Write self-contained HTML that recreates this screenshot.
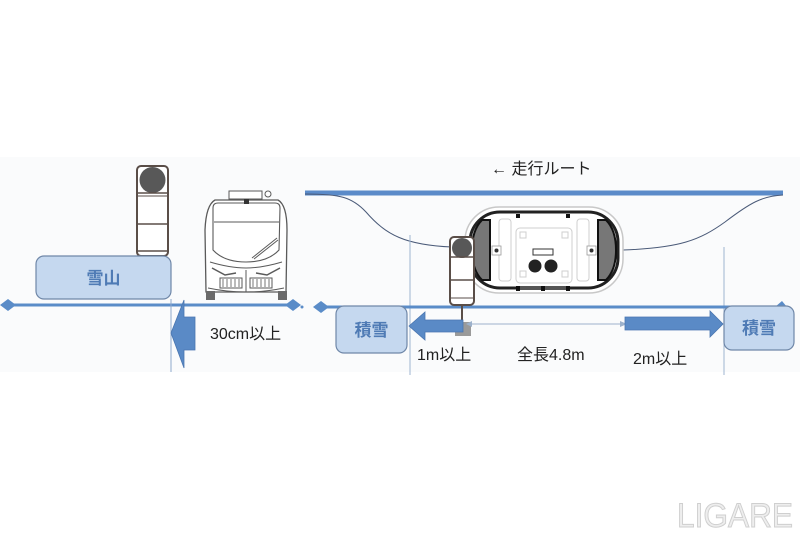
<!DOCTYPE html>
<html><head><meta charset="utf-8"><style>
html,body{margin:0;padding:0;background:#fff;}
svg{display:block;}
text{font-family:"Liberation Sans","Noto Sans CJK JP",sans-serif;}
</style></head><body>
<svg width="800" height="533" viewBox="0 0 800 533" xmlns="http://www.w3.org/2000/svg">
<rect x="0" y="0" width="800" height="533" fill="#fff"/>
<rect x="0" y="157" width="800" height="215" fill="#fafbfc"/>

<!-- LEFT PART -->
<!-- signal pole -->
<rect x="137" y="166" width="31" height="90" rx="4" fill="#fff" stroke="#5a4e48" stroke-width="2"/>
<circle cx="152.5" cy="180" r="13" fill="#585858"/>
<line x1="137" y1="193" x2="168" y2="193" stroke="#5a4e48" stroke-width="1.5"/>
<line x1="137" y1="196" x2="168" y2="196" stroke="#5a4e48" stroke-width="1"/>
<line x1="137" y1="224" x2="168" y2="224" stroke="#5a4e48" stroke-width="1.5"/>
<line x1="137" y1="251" x2="168" y2="251" stroke="#5a4e48" stroke-width="1.5"/>

<!-- 雪山 box -->
<rect x="36" y="256" width="135" height="43" rx="8" fill="#c5d8ef" stroke="#6f87a8" stroke-width="1.2"/>
<text x="103.5" y="284" font-size="17" font-weight="bold" fill="#4f7bb5" text-anchor="middle">雪山</text>

<!-- bus front view -->
<g fill="none" stroke="#5a5a5a" stroke-width="1">
  <rect x="229" y="191" width="33" height="8" fill="#fff"/>
  <circle cx="268" cy="194" r="3" fill="#fff"/>
  <path d="M206,292 L205,230 Q206,205 215,200 L278,200 Q287,205 287,230 L286,292 Z" fill="#fff" stroke-width="1.3"/>
  <path d="M213,208 Q213,203 218,203 L275,203 Q280,203 280,208 L279,250 Q268,262 246,262 Q224,262 213,250 Z" stroke-width="1.1"/>
  <line x1="214" y1="222" x2="279" y2="222"/>
  <line x1="252" y1="258" x2="277" y2="238"/>
  <line x1="254" y1="259" x2="278" y2="240"/>
  <path d="M210,262 Q230,268 246,268 Q262,268 282,262"/>
  <path d="M212,268 L225,275 L236,273" stroke-width="1.5"/>
  <path d="M280,268 L267,275 L256,273" stroke-width="1.5"/>
  <rect x="220" y="278" width="22" height="10"/>
  <rect x="250" y="278" width="22" height="10"/>
  <line x1="246" y1="270" x2="246" y2="292"/>
  <path d="M208,288 Q246,296 284,288"/>
</g>
<rect x="244" y="199" width="5" height="5" fill="#333"/>
<rect x="206" y="291" width="9" height="9" fill="#6a6a6a"/>
<rect x="278" y="291" width="9" height="9" fill="#6a6a6a"/>
<g stroke="#555" stroke-width="0.8">
  <line x1="223" y1="279" x2="223" y2="287"/><line x1="227" y1="279" x2="227" y2="287"/><line x1="231" y1="279" x2="231" y2="287"/><line x1="235" y1="279" x2="235" y2="287"/><line x1="239" y1="279" x2="239" y2="287"/>
  <line x1="253" y1="279" x2="253" y2="287"/><line x1="257" y1="279" x2="257" y2="287"/><line x1="261" y1="279" x2="261" y2="287"/><line x1="265" y1="279" x2="265" y2="287"/><line x1="269" y1="279" x2="269" y2="287"/>
</g>

<!-- left ground line -->
<line x1="8" y1="305" x2="293" y2="305" stroke="#5a8cc8" stroke-width="3"/>
<polygon points="0,305 8,299 16,305 8,311" fill="#5a8cc8"/>
<polygon points="285,305 293,299 301,305 293,311" fill="#5a8cc8"/>

<!-- vertical thin line left -->
<line x1="171" y1="299" x2="171" y2="372" stroke="#8fa9cc" stroke-width="1"/>

<!-- 30cm arrow -->
<polygon points="171,333 184,300 184,317 195,317 195,350 184,350 184,368" fill="#5a8ac6" stroke="#4a76b0" stroke-width="0.8"/>
<text x="210" y="339" font-size="16" fill="#222">30cm以上</text>

<!-- RIGHT PART -->
<text x="491" y="174" font-size="16" fill="#222">← 走行ルート</text>
<line x1="305" y1="193" x2="783" y2="193" stroke="#5b8bc9" stroke-width="5"/>

<!-- curves -->
<path d="M305,194 C340,194 352,197 366,212 C386,235 405,245 452,247" fill="none" stroke="#4a5a78" stroke-width="1"/>
<path d="M623,250 C680,248 700,240 725,222 C750,203 762,196 783,195" fill="none" stroke="#4a5a78" stroke-width="1"/>

<!-- vertical thin lines -->
<line x1="410" y1="235" x2="410" y2="375" stroke="#9fb4d0" stroke-width="1"/>
<line x1="724" y1="247" x2="724" y2="375" stroke="#9fb4d0" stroke-width="1"/>

<!-- vehicle top view -->
<rect x="465" y="207" width="158" height="86" rx="34" fill="#fff" stroke="#c8c8c8" stroke-width="1.5"/>
<rect x="470" y="212" width="148" height="76" rx="30" fill="#fff" stroke="#222" stroke-width="3"/>
<path d="M490,220 L482,220 Q472,230 472,250 Q472,270 482,280 L490,280 Z" fill="#777" stroke="#111" stroke-width="2"/>
<path d="M598,220 L606,220 Q616,230 616,250 Q616,270 606,280 L598,280 Z" fill="#777" stroke="#111" stroke-width="2"/>
<g fill="none" stroke="#cfcfcf" stroke-width="1">
  <rect x="499" y="219" width="12" height="62" rx="3"/>
  <rect x="577" y="219" width="12" height="62" rx="3"/>
  <rect x="516" y="228" width="56" height="55" rx="4"/>
  <rect x="520" y="232" width="6" height="6"/><rect x="562" y="232" width="6" height="6"/>
  <rect x="520" y="271" width="6" height="6"/><rect x="562" y="271" width="6" height="6"/>
</g>
<rect x="492" y="246" width="9" height="9" fill="#fff" stroke="#999" stroke-width="0.8"/>
<circle cx="496.5" cy="250.5" r="2" fill="#333"/>
<rect x="587" y="246" width="9" height="9" fill="#fff" stroke="#999" stroke-width="0.8"/>
<circle cx="591.5" cy="250.5" r="2" fill="#333"/>
<rect x="533" y="249" width="20" height="6" fill="#fff" stroke="#333" stroke-width="1"/>
<circle cx="535" cy="266" r="6.5" fill="#222"/>
<circle cx="551" cy="266" r="6.5" fill="#222"/>
<rect x="516" y="214" width="4" height="4" fill="#111"/>
<rect x="566" y="214" width="4" height="4" fill="#111"/>
<rect x="518" y="286" width="50" height="4" fill="#555"/>
<rect x="516" y="286" width="4" height="5" fill="#111"/><rect x="541" y="286" width="4" height="5" fill="#111"/><rect x="566" y="286" width="4" height="5" fill="#111"/>

<!-- right ground line -->
<line x1="321" y1="307" x2="783" y2="307" stroke="#5a8cc8" stroke-width="3"/>
<polygon points="313,307 321,301 329,307 321,313" fill="#5a8cc8"/>
<polygon points="775,307 782,301 787,307" fill="#5a8cc8"/>
<circle cx="302" cy="307" r="1.5" fill="#5a8cc8"/>

<!-- right pole -->
<rect x="450" y="237" width="24" height="68" rx="4" fill="#fff" stroke="#5a4e48" stroke-width="2"/>
<circle cx="462" cy="248" r="10" fill="#585858"/>
<line x1="450" y1="257" x2="474" y2="257" stroke="#5a4e48" stroke-width="1.5"/>
<line x1="450" y1="280" x2="474" y2="280" stroke="#5a4e48" stroke-width="1.5"/>
<line x1="450" y1="298" x2="474" y2="298" stroke="#5a4e48" stroke-width="1"/>
<line x1="462" y1="305" x2="462" y2="323" stroke="#5a4e48" stroke-width="2"/>
<rect x="455" y="322" width="16" height="14" fill="#9a9a9a"/>

<!-- 積雪 left box -->
<rect x="336" y="306" width="71" height="47" rx="8" fill="#c5d8ef" stroke="#6f87a8" stroke-width="1.2"/>
<text x="371.5" y="336" font-size="17" font-weight="bold" fill="#4f7bb5" text-anchor="middle">積雪</text>

<!-- 1m arrow -->
<polygon points="409,326 425,312 425,320 463,320 463,332 425,332 425,340" fill="#5a8ac6" stroke="#4a76b0" stroke-width="0.8"/>

<!-- thin dimension arrow -->
<line x1="470" y1="324" x2="624" y2="324" stroke="#9db2cc" stroke-width="1"/>
<polygon points="466,324 472,321 472,327" fill="#9db2cc"/>
<polygon points="627,324 620,321 620,327" fill="#9db2cc"/>

<!-- 2m arrow -->
<polygon points="625,317 710,317 710,311 723,324 710,337 710,330 625,330" fill="#5a8ac6" stroke="#4a76b0" stroke-width="0.8"/>

<!-- 積雪 right box -->
<rect x="724" y="306" width="70" height="44" rx="8" fill="#c5d8ef" stroke="#6f87a8" stroke-width="1.2"/>
<text x="759" y="334" font-size="17" font-weight="bold" fill="#4f7bb5" text-anchor="middle">積雪</text>

<!-- labels -->
<text x="417" y="360" font-size="16" fill="#222">1m以上</text>
<text x="517" y="360" font-size="16" fill="#222">全長4.8m</text>
<text x="633" y="364" font-size="16" fill="#222">2m以上</text>

<!-- LIGARE watermark -->
<text x="677" y="527" font-size="34" fill="#eeeeee" stroke="#cfcfcf" stroke-width="1" textLength="116" lengthAdjust="spacingAndGlyphs">LIGARE</text>
</svg>
</body></html>
